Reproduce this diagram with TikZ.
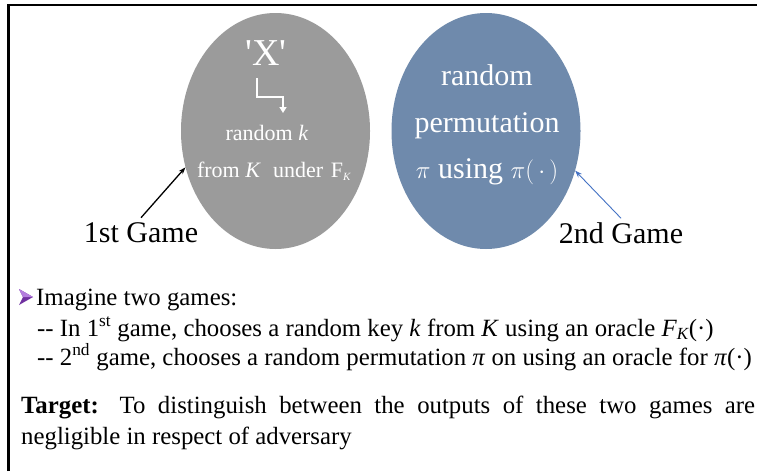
\documentclass[tikz,border=0pt]{standalone}
\usepackage{fontspec}
\setmainfont{Liberation Serif}
\newfontfamily\rawserif{Liberation Serif}
\usetikzlibrary{shapes.geometric,arrows.meta}
\definecolor{gamegray}{RGB}{155,155,155}
\definecolor{gameblue}{RGB}{111,138,172}
\definecolor{pointerblue}{RGB}{68,114,196}
\definecolor{bulletpurple}{RGB}{112,48,160}
\definecolor{bulletlight}{RGB}{180,125,222}
\begin{document}
\begin{tikzpicture}[x=1pt,y=-1pt,
  game/.style={ellipse, minimum width=189pt, minimum height=236pt, inner sep=0pt},
  intext/.style={text=white, inner sep=0pt},
  caption/.style={font=\fontsize{30}{30}\selectfont, inner sep=0pt},
  body/.style={font=\fontsize{24.8}{31}\selectfont, anchor=base west, inner sep=0pt},
  pointer/.style={-{Stealth[length=7pt,width=5pt]}}]
\useasboundingbox (0,0) rectangle (757,471);
\fill[white] (0,0) rectangle (757,471);
% frame on the top and left sides
\draw[line width=2.7pt] (8.5,471) -- (8.5,5) -- (757,5);

% the two games
\node[game, fill=gamegray] (g1) at (275.5,131) {};
\node[game, fill=gameblue] (g2) at (486,131) {};

% first game contents
\node[intext, font=\fontsize{38}{38}\rawserif] (xq) at (266,53) {'X'};
\node[intext, font=\fontsize{22}{22}\selectfont] (rk) at (267,133) {random \textit{k}};
\node[intext, font=\fontsize{22}{22}\selectfont] (fk) at (274,171)
  {from \textit{K}\hspace{0.55em}under\hspace{0.1em} F\raisebox{-0.3ex}{\fontsize{11}{11}\selectfont\textit{K}}};
\coordinate (e1) at (257,78);
\coordinate (e2) at (283,113);
\draw[white, line width=2pt, -{Triangle[length=6pt,width=7pt]}] (e1) -- ++(0,19) -| (e2);

% second game contents
\node[intext, align=center, font=\fontsize{30}{46.5}\selectfont] (pt) at (487,125)
  {random\\permutation\\$\pi$ using $\pi\bigl(\,\cdot\,\bigr)$};

% captions and pointers
\node[caption] (l1) at (141,233) {1st Game};
\node[caption] (l2) at (621,233) {2nd Game};
\draw[pointer, line width=1.3pt] ([yshift=5pt]l1.north) -- (g1.202);
\draw[pointer, line width=0.9pt, pointerblue] ([yshift=4pt]l2.north) -- (g2.336);

% bullet
\fill[bulletpurple] (19,289) -- (33,297) -- (19,305) -- (23,297) -- cycle;
\fill[bulletlight] (19,289) -- (33,297) -- (23,297) -- cycle;

% body text
\node[body] (b1) at (36,305) {Imagine two games:};
\node[body] (b2) at (37,336) {-{}- In 1\textsuperscript{st} game, chooses a random key \textit{k} from \textit{K} using an oracle \textit{F}\raisebox{-0.3ex}{\fontsize{17}{17}\selectfont\textit{K}}(·)};
\node[body] (b3) at (37,365) {-{}- 2\textsuperscript{nd} game, chooses a random permutation \textit{π} on using an oracle for \textit{π}(·)};
\node[body, text width=734pt, align=justify] (tg) at (21,413)
  {\textbf{Target:} To distinguish between the outputs of these two games are\linebreak negligible in respect of adversary};
\end{tikzpicture}
\end{document}
